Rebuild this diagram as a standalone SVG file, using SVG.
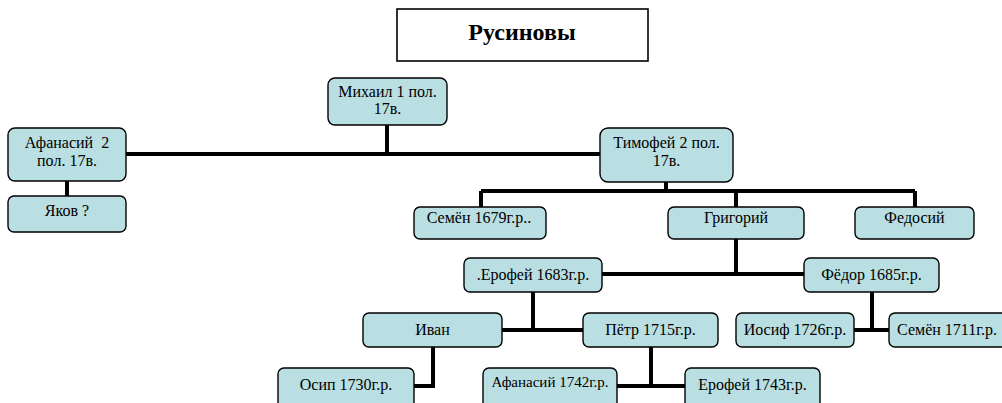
<svg xmlns="http://www.w3.org/2000/svg" width="1002" height="403" viewBox="0 0 1002 403">
<style>
.n rect{fill:#B9DFE3;stroke:#000;stroke-width:1.4}
.c{stroke:#000;stroke-width:4;fill:none}
</style>
<rect width="1002" height="403" fill="#fff"/>
<g id="connectors">
<path class="c" d="M126 154H600M387 125V154"/>
<path class="c" d="M67 181V196"/>
<path class="c" d="M666 182V191M481 191H915M481 191V207M736 191V207M915 191V207"/>
<path class="c" d="M736 239V274M602 274H804"/>
<path class="c" d="M533 292V330M502 330H583"/>
<path class="c" d="M433 347V386H414"/>
<path class="c" d="M651 347V386M617 386H685"/>
<path class="c" d="M872 292V330M854 330H889"/>
</g>
<g id="title">
<rect x="397" y="9" width="251" height="52" fill="#fff" stroke="#000" stroke-width="1.6"/>
<text x="522" y="40" font-family="Liberation Serif, Times New Roman, serif" font-size="24" font-weight="bold" text-anchor="middle">Русиновы</text>
</g>
<g id="nodes">
<g id="mikhail" class="n"><rect x="328" y="78" width="119" height="47" rx="7"/><text x="387.5" y="97" font-family="Liberation Serif, Times New Roman, serif" font-size="16" text-anchor="middle">Михаил 1 пол.</text><text x="387.5" y="114" font-family="Liberation Serif, Times New Roman, serif" font-size="16" text-anchor="middle">17в.</text></g>
<g id="afanasiy2" class="n"><rect x="8" y="128" width="118" height="53" rx="7"/><text x="67" y="148" font-family="Liberation Serif, Times New Roman, serif" font-size="16" text-anchor="middle" xml:space="preserve">Афанасий  2</text><text x="67" y="166" font-family="Liberation Serif, Times New Roman, serif" font-size="16" text-anchor="middle">пол. 17в.</text></g>
<g id="yakov" class="n"><rect x="8" y="196" width="118" height="36" rx="6"/><text x="67" y="216" font-family="Liberation Serif, Times New Roman, serif" font-size="16" text-anchor="middle">Яков ?</text></g>
<g id="timofey" class="n"><rect x="600" y="128" width="133" height="54" rx="8"/><text x="666.5" y="148" font-family="Liberation Serif, Times New Roman, serif" font-size="16" text-anchor="middle">Тимофей 2 пол.</text><text x="666.5" y="166" font-family="Liberation Serif, Times New Roman, serif" font-size="16" text-anchor="middle">17в.</text></g>
<g id="semen1679" class="n"><rect x="414" y="207" width="132" height="32" rx="6"/><text x="479" y="223" font-family="Liberation Serif, Times New Roman, serif" font-size="16" text-anchor="middle">Семён 1679г.р..</text></g>
<g id="grigoriy" class="n"><rect x="668" y="207" width="136" height="32" rx="6"/><text x="736" y="223" font-family="Liberation Serif, Times New Roman, serif" font-size="16" text-anchor="middle">Григорий</text></g>
<g id="fedosiy" class="n"><rect x="855" y="207" width="119" height="32" rx="6"/><text x="914.5" y="223" font-family="Liberation Serif, Times New Roman, serif" font-size="16" text-anchor="middle">Федосий</text></g>
<g id="erofey1683" class="n"><rect x="464" y="258" width="138" height="34" rx="6"/><text x="533" y="280" font-family="Liberation Serif, Times New Roman, serif" font-size="16" text-anchor="middle">.Ерофей 1683г.р.</text></g>
<g id="fedor1685" class="n"><rect x="804" y="258" width="135" height="34" rx="6"/><text x="871.5" y="280" font-family="Liberation Serif, Times New Roman, serif" font-size="16" text-anchor="middle">Фёдор 1685г.р.</text></g>
<g id="ivan" class="n"><rect x="363" y="313" width="139" height="34" rx="6"/><text x="432.5" y="335" font-family="Liberation Serif, Times New Roman, serif" font-size="16" text-anchor="middle">Иван</text></g>
<g id="petr1715" class="n"><rect x="583" y="313" width="135" height="34" rx="6"/><text x="650.5" y="335" font-family="Liberation Serif, Times New Roman, serif" font-size="16" text-anchor="middle">Пётр 1715г.р.</text></g>
<g id="iosif1726" class="n"><rect x="736" y="313" width="118" height="34" rx="6"/><text x="795" y="335" font-family="Liberation Serif, Times New Roman, serif" font-size="16" text-anchor="middle">Иосиф 1726г.р.</text></g>
<g id="semen1711" class="n"><rect x="889" y="313" width="120" height="34" rx="6"/><text x="947" y="335" font-family="Liberation Serif, Times New Roman, serif" font-size="16" text-anchor="middle">Семён 1711г.р.</text></g>
<g id="osip1730" class="n"><rect x="278" y="368" width="136" height="42" rx="6"/><text x="346" y="390" font-family="Liberation Serif, Times New Roman, serif" font-size="16" text-anchor="middle">Осип 1730г.р.</text></g>
<g id="afanasiy1742" class="n"><rect x="483" y="368" width="134" height="42" rx="6"/><text x="550" y="387" font-family="Liberation Serif, Times New Roman, serif" font-size="15" text-anchor="middle">Афанасий 1742г.р.</text></g>
<g id="erofey1743" class="n"><rect x="685" y="368" width="135" height="42" rx="6"/><text x="752.5" y="390" font-family="Liberation Serif, Times New Roman, serif" font-size="16" text-anchor="middle">Ерофей 1743г.р.</text></g>
</g>
</svg>
